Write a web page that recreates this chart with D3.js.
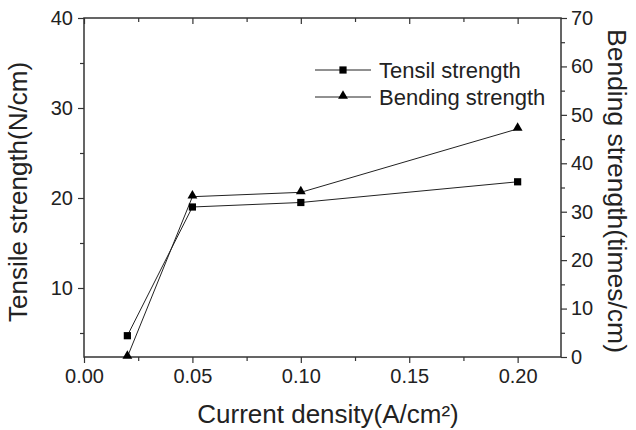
<!DOCTYPE html>
<html><head><meta charset="utf-8">
<script src="https://cdn.jsdelivr.net/npm/d3@7"></script>
<style>body{margin:0;background:#fff}svg{display:block}text{font-family:"Liberation Sans",Arial,sans-serif;fill:#222}</style>
</head><body><svg id="c" width="636" height="430"></svg>
<script>
const xValues = [0.02, 0.05, 0.10, 0.20];
const tensile = [4.7, 19.0, 19.5, 21.8];
const bending = [0.0, 33.1, 34.0, 47.1];
const xTicks = [0.00, 0.05, 0.10, 0.15, 0.20];
const leftTicks = [10, 20, 30, 40];
const rightTicks = [0, 10, 20, 30, 40, 50, 60, 70];
const seriesNames = ["Tensil strength", "Bending strength"];

const svg = d3.select("#c");
const L = 84, R = 561, T = 18, B = 357;
const x = d3.scaleLinear().domain([0, 0.22]).range([L, R]);
const yL = d3.scaleLinear().domain([2.333, 40]).range([B, T]);
const yR = d3.scaleLinear().domain([0, 70]).range([B, T]);
const ax = "#333";

function styleAxis(g, fs) {
  g.select(".domain").remove();
  g.selectAll("line").attr("stroke", ax).attr("stroke-width", 1.2);
  g.selectAll("text").attr("font-size", fs).style("fill", "#222");
}

// bottom axis
const xb = svg.append("g").attr("transform", `translate(0,${B})`)
  .call(d3.axisBottom(x).tickValues(xTicks).tickFormat(d3.format(".2f")).tickSize(6).tickPadding(6));
styleAxis(xb, 20);
svg.append("g").attr("transform", `translate(0,${B})`)
  .call(d3.axisBottom(x).tickValues([0.025,0.075,0.125,0.175]).tickFormat("").tickSize(4))
  .call(g => styleAxis(g, 0));
// top axis (inward ticks)
svg.append("g").attr("transform", `translate(0,${T})`)
  .call(d3.axisBottom(x).tickValues(xTicks).tickFormat("").tickSize(6)).call(g => styleAxis(g, 0));
svg.append("g").attr("transform", `translate(0,${T})`)
  .call(d3.axisBottom(x).tickValues([0.025,0.075,0.125,0.175]).tickFormat("").tickSize(4)).call(g => styleAxis(g, 0));
// left axis
const yl = svg.append("g").attr("transform", `translate(${L},0)`)
  .call(d3.axisLeft(yL).tickValues(leftTicks).tickSize(6).tickPadding(5));
styleAxis(yl, 20);
svg.append("g").attr("transform", `translate(${L},0)`)
  .call(d3.axisLeft(yL).tickValues([5,15,25,35]).tickFormat("").tickSize(4)).call(g => styleAxis(g, 0));
// right axis
const yr = svg.append("g").attr("transform", `translate(${R},0)`)
  .call(d3.axisRight(yR).tickValues(rightTicks).tickSize(6).tickPadding(4));
styleAxis(yr, 20);
svg.append("g").attr("transform", `translate(${R},0)`)
  .call(d3.axisRight(yR).tickValues([5,15,25,35,45,55,65]).tickFormat("").tickSize(4)).call(g => styleAxis(g, 0));

// frame
svg.append("rect").attr("x", L).attr("y", T).attr("width", R - L).attr("height", B - T)
  .attr("fill", "none").attr("stroke", ax).attr("stroke-width", 1.5);

// titles
svg.append("text").attr("x", 328).attr("y", 423).attr("text-anchor", "middle")
  .attr("font-size", 26).text("Current density(A/cm²)");
svg.append("text").attr("transform", `translate(27,192) rotate(-90)`).attr("text-anchor", "middle")
  .attr("font-size", 26).text("Tensile strength(N/cm)");
svg.append("text").attr("transform", `translate(608,191) rotate(90)`).attr("text-anchor", "middle")
  .attr("font-size", 26.5).text("Bending strength(times/cm)");

// lines
const lineT = d3.line().x((d, i) => x(xValues[i])).y(d => yL(d));
const lineB = d3.line().x((d, i) => x(xValues[i])).y(d => yR(d));
svg.append("path").attr("d", lineT(tensile)).attr("fill", "none").attr("stroke", "#222").attr("stroke-width", 1);
svg.append("path").attr("d", lineB(bending)).attr("fill", "none").attr("stroke", "#222").attr("stroke-width", 1);

const sq = d3.symbol().type(d3.symbolSquare).size(52);
const tri = d3.symbol().type(d3.symbolTriangle).size(42);
svg.selectAll(".sq").data(tensile).join("path").attr("d", sq)
  .attr("transform", (d, i) => `translate(${x(xValues[i])},${yL(d)})`).attr("fill", "#000");
svg.selectAll(".tri").data(bending).join("path").attr("d", tri)
  .attr("transform", (d, i) => `translate(${x(xValues[i])},${yR(d) - 1})`).attr("fill", "#000");

// legend
const legY = [70, 97];
const syms = [sq, tri];
seriesNames.forEach((n, i) => {
  svg.append("line").attr("x1", 315).attr("x2", 371).attr("y1", legY[i]).attr("y2", legY[i]).attr("stroke", "#222");
  svg.append("path").attr("d", syms[i]).attr("transform", `translate(343,${legY[i] - (i ? 1 : 0)})`).attr("fill", "#000");
  svg.append("text").attr("x", 379).attr("y", legY[i] + 8).attr("font-size", 22).text(n);
});
</script></body></html>
